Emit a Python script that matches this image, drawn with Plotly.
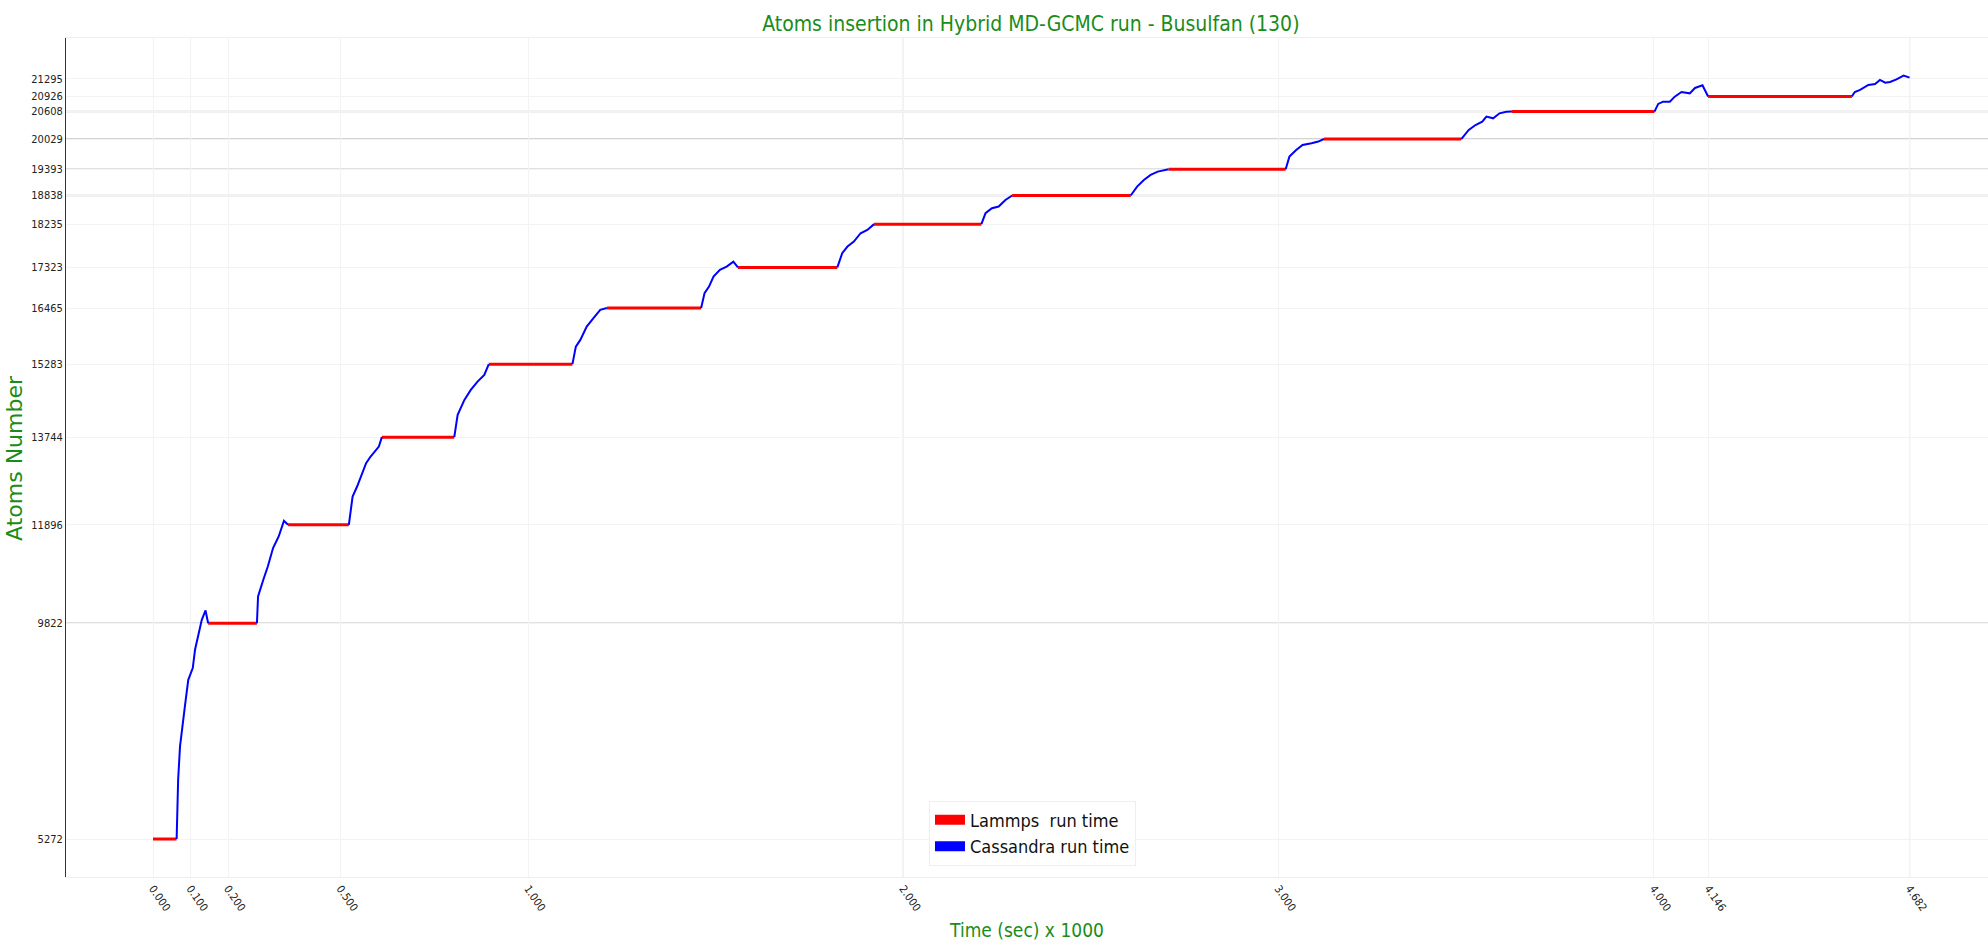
import plotly.graph_objects as go

# Lammps (MD) plateaus: start / end time (s x 1000) and the atom count held constant
lammps_start = [0.000, 0.147, 0.360, 0.610, 0.895, 1.210, 1.559, 1.922, 2.290, 2.707, 3.121, 3.622, 4.145]
lammps_end = [0.063, 0.277, 0.522, 0.803, 1.118, 1.461, 1.824, 2.208, 2.606, 3.019, 3.487, 4.002, 4.528]
lammps_atoms = [5272, 9822, 11896, 13744, 15283, 16465, 17323, 18235, 18838, 19393, 20029, 20608, 20926]

# Cassandra (GCMC) insertion stages: sampled time (s x 1000) and atom count
cassandra_time = [
    [0.063, 0.067, 0.072, 0.079, 0.085, 0.094, 0.106, 0.112, 0.121, 0.130, 0.140, 0.147],
    [0.277, 0.280, 0.294, 0.306, 0.320, 0.335, 0.349, 0.360],
    [0.522, 0.532, 0.544, 0.558, 0.568, 0.580, 0.592, 0.602, 0.610],
    [0.803, 0.812, 0.830, 0.847, 0.865, 0.883, 0.895],
    [1.118, 1.127, 1.139, 1.156, 1.174, 1.192, 1.210],
    [1.461, 1.470, 1.482, 1.494, 1.511, 1.529, 1.547, 1.559],
    [1.824, 1.837, 1.851, 1.868, 1.886, 1.904, 1.922],
    [2.208, 2.219, 2.236, 2.254, 2.272, 2.290],
    [2.606, 2.623, 2.641, 2.659, 2.678, 2.695, 2.707],
    [3.019, 3.029, 3.047, 3.064, 3.088, 3.106, 3.121],
    [3.487, 3.507, 3.525, 3.543, 3.554, 3.572, 3.589, 3.607, 3.622],
    [4.002, 4.012, 4.025, 4.043, 4.056, 4.074, 4.096, 4.110, 4.130, 4.145],
    [4.528, 4.536, 4.550, 4.572, 4.590, 4.603, 4.617, 4.630, 4.647, 4.666, 4.682],
]
cassandra_atoms = [
    [5272, 6522, 7224, 7717, 8066, 8629, 8876, 9261, 9578, 9894, 10090, 9822],
    [9822, 10385, 10737, 11017, 11405, 11650, 11980, 11896],
    [11896, 12492, 12703, 12985, 13196, 13335, 13441, 13546, 13744],
    [13744, 14214, 14530, 14741, 14916, 15057, 15283],
    [15283, 15653, 15794, 16075, 16252, 16427, 16465],
    [16465, 16779, 16918, 17129, 17270, 17340, 17445, 17323],
    [17323, 17622, 17762, 17867, 18043, 18113, 18235],
    [18235, 18465, 18570, 18605, 18745, 18838],
    [18838, 19025, 19166, 19272, 19342, 19377, 19393],
    [19393, 19658, 19799, 19904, 19940, 19975, 20029],
    [20029, 20220, 20325, 20395, 20501, 20466, 20571, 20606, 20608],
    [20608, 20769, 20817, 20817, 20922, 21020, 20992, 21105, 21161, 20926],
    [20926, 21020, 21064, 21168, 21189, 21274, 21218, 21232, 21288, 21365, 21323],
]

y_ticks = [5272, 9822, 11896, 13744, 15283, 16465, 17323, 18235, 18838, 19393, 20029, 20608, 20926, 21295]
x_ticks = [0.0, 0.1, 0.2, 0.5, 1.0, 2.0, 3.0, 4.0, 4.146, 4.682]
x_tick_labels = ["0.000", "0.100", "0.200", "0.500", "1.000", "2.000", "3.000", "4.000", "4.146", "4.682"]

# reference levels drawn with a stronger grid line
strong_y = [9822, 18838, 19393, 20029, 20608]
strong_x = [2.0, 4.682]

GREEN = "#1a8c1a"
NARROW = "DejaVu Sans Condensed, Liberation Sans Narrow, Liberation Sans, sans-serif"

# flat MD segments joined into one trace, separated by gaps
lx, ly = [], []
for s, e, a in zip(lammps_start, lammps_end, lammps_atoms):
    lx += [s, e, None]
    ly += [a, a, None]

cx, cy = [], []
for t, a in zip(cassandra_time, cassandra_atoms):
    cx += list(t) + [None]
    cy += list(a) + [None]

fig = go.Figure()
fig.add_trace(go.Scatter(x=lx, y=ly, mode="lines", line=dict(color="#ff0000", width=3),
                         showlegend=False, hoverinfo="x+y"))
fig.add_trace(go.Scatter(x=cx, y=cy, mode="lines", line=dict(color="#0000ff", width=2),
                         showlegend=False, hoverinfo="x+y"))
# legend entries with block swatches
fig.add_trace(go.Scatter(x=[None], y=[None], mode="lines", line=dict(color="#ff0000", width=16),
                         name="Lammps\u00a0 run time"))
fig.add_trace(go.Scatter(x=[None], y=[None], mode="lines", line=dict(color="#0000ff", width=16),
                         name="Cassandra run time"))

for v in strong_y:
    fig.add_hline(y=v, line=dict(color="#c4c4c4", width=1.5), layer="below")
for v in strong_x:
    fig.add_vline(x=v, line=dict(color="#a8a8a8", width=1), layer="below")

# y-axis title placed close to the tick labels
fig.add_annotation(text="Atoms Number", textangle=-90, xref="paper", yref="paper",
                   x=-0.0268, y=0.5, xanchor="center", yanchor="middle", showarrow=False,
                   font=dict(family="DejaVu Sans", size=22, color=GREEN))

fig.update_layout(
    width=1988, height=941,
    margin=dict(l=66, r=0, t=38, b=64),
    plot_bgcolor="white", paper_bgcolor="white",
    title=dict(text="Atoms insertion in Hybrid MD-GCMC run - Busulfan (130)",
               x=0.502, xref="paper", xanchor="center", y=1 - 24 / 941, yanchor="middle",
               font=dict(family=NARROW, size=21, color=GREEN)),
    legend=dict(x=0.449, y=0.091, xanchor="left", yanchor="top", bgcolor="white",
                bordercolor="#eeeeee", borderwidth=1,
                font=dict(family=NARROW, size=18, color="#111111")),
    xaxis=dict(range=[-0.2319, 4.891], tickmode="array", tickvals=x_ticks, ticktext=x_tick_labels,
               tickangle=55, tickfont=dict(family=NARROW, size=11, color="#222222"),
               showgrid=True, gridcolor="#f3f3f3", zeroline=False,
               showline=True, linecolor="#eeeeee", mirror=True,
               title=dict(text="Time (sec) x 1000", font=dict(family=NARROW, size=19, color=GREEN))),
    yaxis=dict(range=[4471, 22159], tickmode="array", tickvals=y_ticks,
               ticktext=[str(v) for v in y_ticks],
               tickfont=dict(family=NARROW, size=11, color="#222222"),
               showgrid=True, gridcolor="#f3f3f3", zeroline=False,
               showline=True, linecolor="#333333", linewidth=1),
)

fig.write_html("out.html")
